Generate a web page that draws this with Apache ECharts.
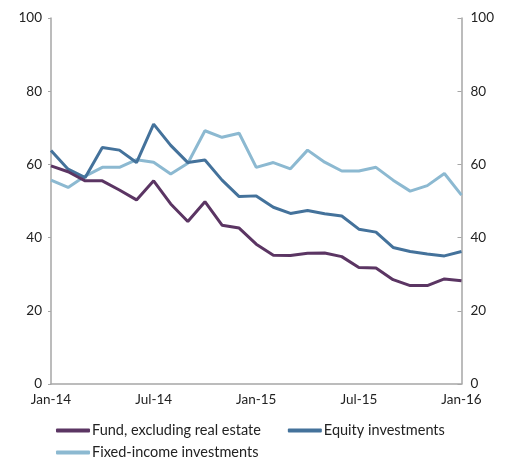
<!DOCTYPE html>
<html>
<head>
<meta charset="utf-8">
<script src="https://cdn.jsdelivr.net/npm/echarts@6/dist/echarts.min.js"></script>
<style>
  html, body { margin: 0; padding: 0; background: #fff; }
  #chart { width: 506px; height: 457px; }
</style>
</head>
<body>
<div id="chart"></div>
<script>
// months Jan-14 .. Jan-16
const months = ['Jan-14', 'Feb-14', 'Mar-14', 'Apr-14', 'May-14', 'Jun-14', 'Jul-14', 'Aug-14', 'Sep-14', 'Oct-14', 'Nov-14', 'Dec-14',
    'Jan-15', 'Feb-15', 'Mar-15', 'Apr-15', 'May-15', 'Jun-15', 'Jul-15', 'Aug-15', 'Sep-15', 'Oct-15', 'Nov-15', 'Dec-15', 'Jan-16'];

const fundExRealEstate = [59.6, 58.0, 55.5, 55.5, 53.0, 50.3, 55.5, 49.2, 44.4, 49.8, 43.4, 42.6,
    38.2, 35.2, 35.1, 35.7, 35.8, 34.8, 31.8, 31.7, 28.5, 26.9, 26.9, 28.7, 28.2];
const equityInvestments = [63.8, 58.7, 56.4, 64.6, 63.9, 60.5, 71.0, 65.2, 60.5, 61.2, 55.7, 51.2,
    51.4, 48.3, 46.6, 47.4, 46.5, 45.9, 42.3, 41.5, 37.3, 36.2, 35.5, 35.0, 36.2];
const fixedIncomeInvestments = [55.7, 53.7, 56.8, 59.2, 59.2, 61.3, 60.6, 57.4, 60.3, 69.2, 67.4, 68.5,
    59.2, 60.5, 58.8, 63.9, 60.6, 58.2, 58.2, 59.2, 55.7, 52.7, 54.2, 57.5, 51.6];

const yTicks = { min: 0, max: 100, interval: 20 };

const names = ['Fund, excluding real estate', 'Equity investments', 'Fixed-income investments'];
const colors = ['#5b3563', '#44729b', '#8cb9d1'];
const font = 'Lato';

const myEcharts = echarts.init(document.getElementById('chart'));

const axisGray = '#a6a6a6';
const yAxisBase = {
    type: 'value',
    min: yTicks.min,
    max: yTicks.max,
    interval: yTicks.interval,
    splitLine: { show: false },
    axisLine: { show: true, lineStyle: { color: axisGray, width: 1.5 } },
    axisLabel: { color: '#222', fontSize: 13.5, fontFamily: font, margin: 9 }
};

const legendBase = {
    icon: 'roundRect',
    itemWidth: 34,
    itemHeight: 4,
    itemGap: 27,
    left: 51,
    textStyle: { color: '#222', fontSize: 14.5, fontFamily: font, padding: [0, 0, 0, -3] }
};

const option = {
    color: colors,
    animation: false,
    grid: { left: 51, right: 44.5, top: 18, bottom: 73, containLabel: false },
    legend: [
        Object.assign({}, legendBase, { top: 418, data: [names[0], names[1]] }),
        Object.assign({}, legendBase, { top: 440, data: [names[2]] })
    ],
    xAxis: {
        type: 'category',
        boundaryGap: false,
        data: months,
        axisLine: { lineStyle: { color: axisGray, width: 1.5 } },
        axisTick: { show: false },
        axisLabel: { interval: 5, color: '#222', fontSize: 13.5, fontFamily: font, margin: 9 }
    },
    yAxis: [
        Object.assign({}, yAxisBase, {
            position: 'left',
            axisTick: { show: true, inside: false, length: 3, lineStyle: { color: axisGray } }
        }),
        Object.assign({}, yAxisBase, {
            position: 'right',
            axisTick: { show: true, inside: true, length: 4, lineStyle: { color: axisGray } }
        })
    ],
    series: [
        { name: names[0], type: 'line', data: fundExRealEstate },
        { name: names[1], type: 'line', data: equityInvestments },
        { name: names[2], type: 'line', data: fixedIncomeInvestments }
    ].map((s, i) => Object.assign(s, {
        yAxisIndex: 0,
        showSymbol: false,
        symbol: 'none',
        lineStyle: { width: 3, color: colors[i] },
        z: 3 - i
    }))
};

myEcharts.setOption(option);
</script>
</body>
</html>
